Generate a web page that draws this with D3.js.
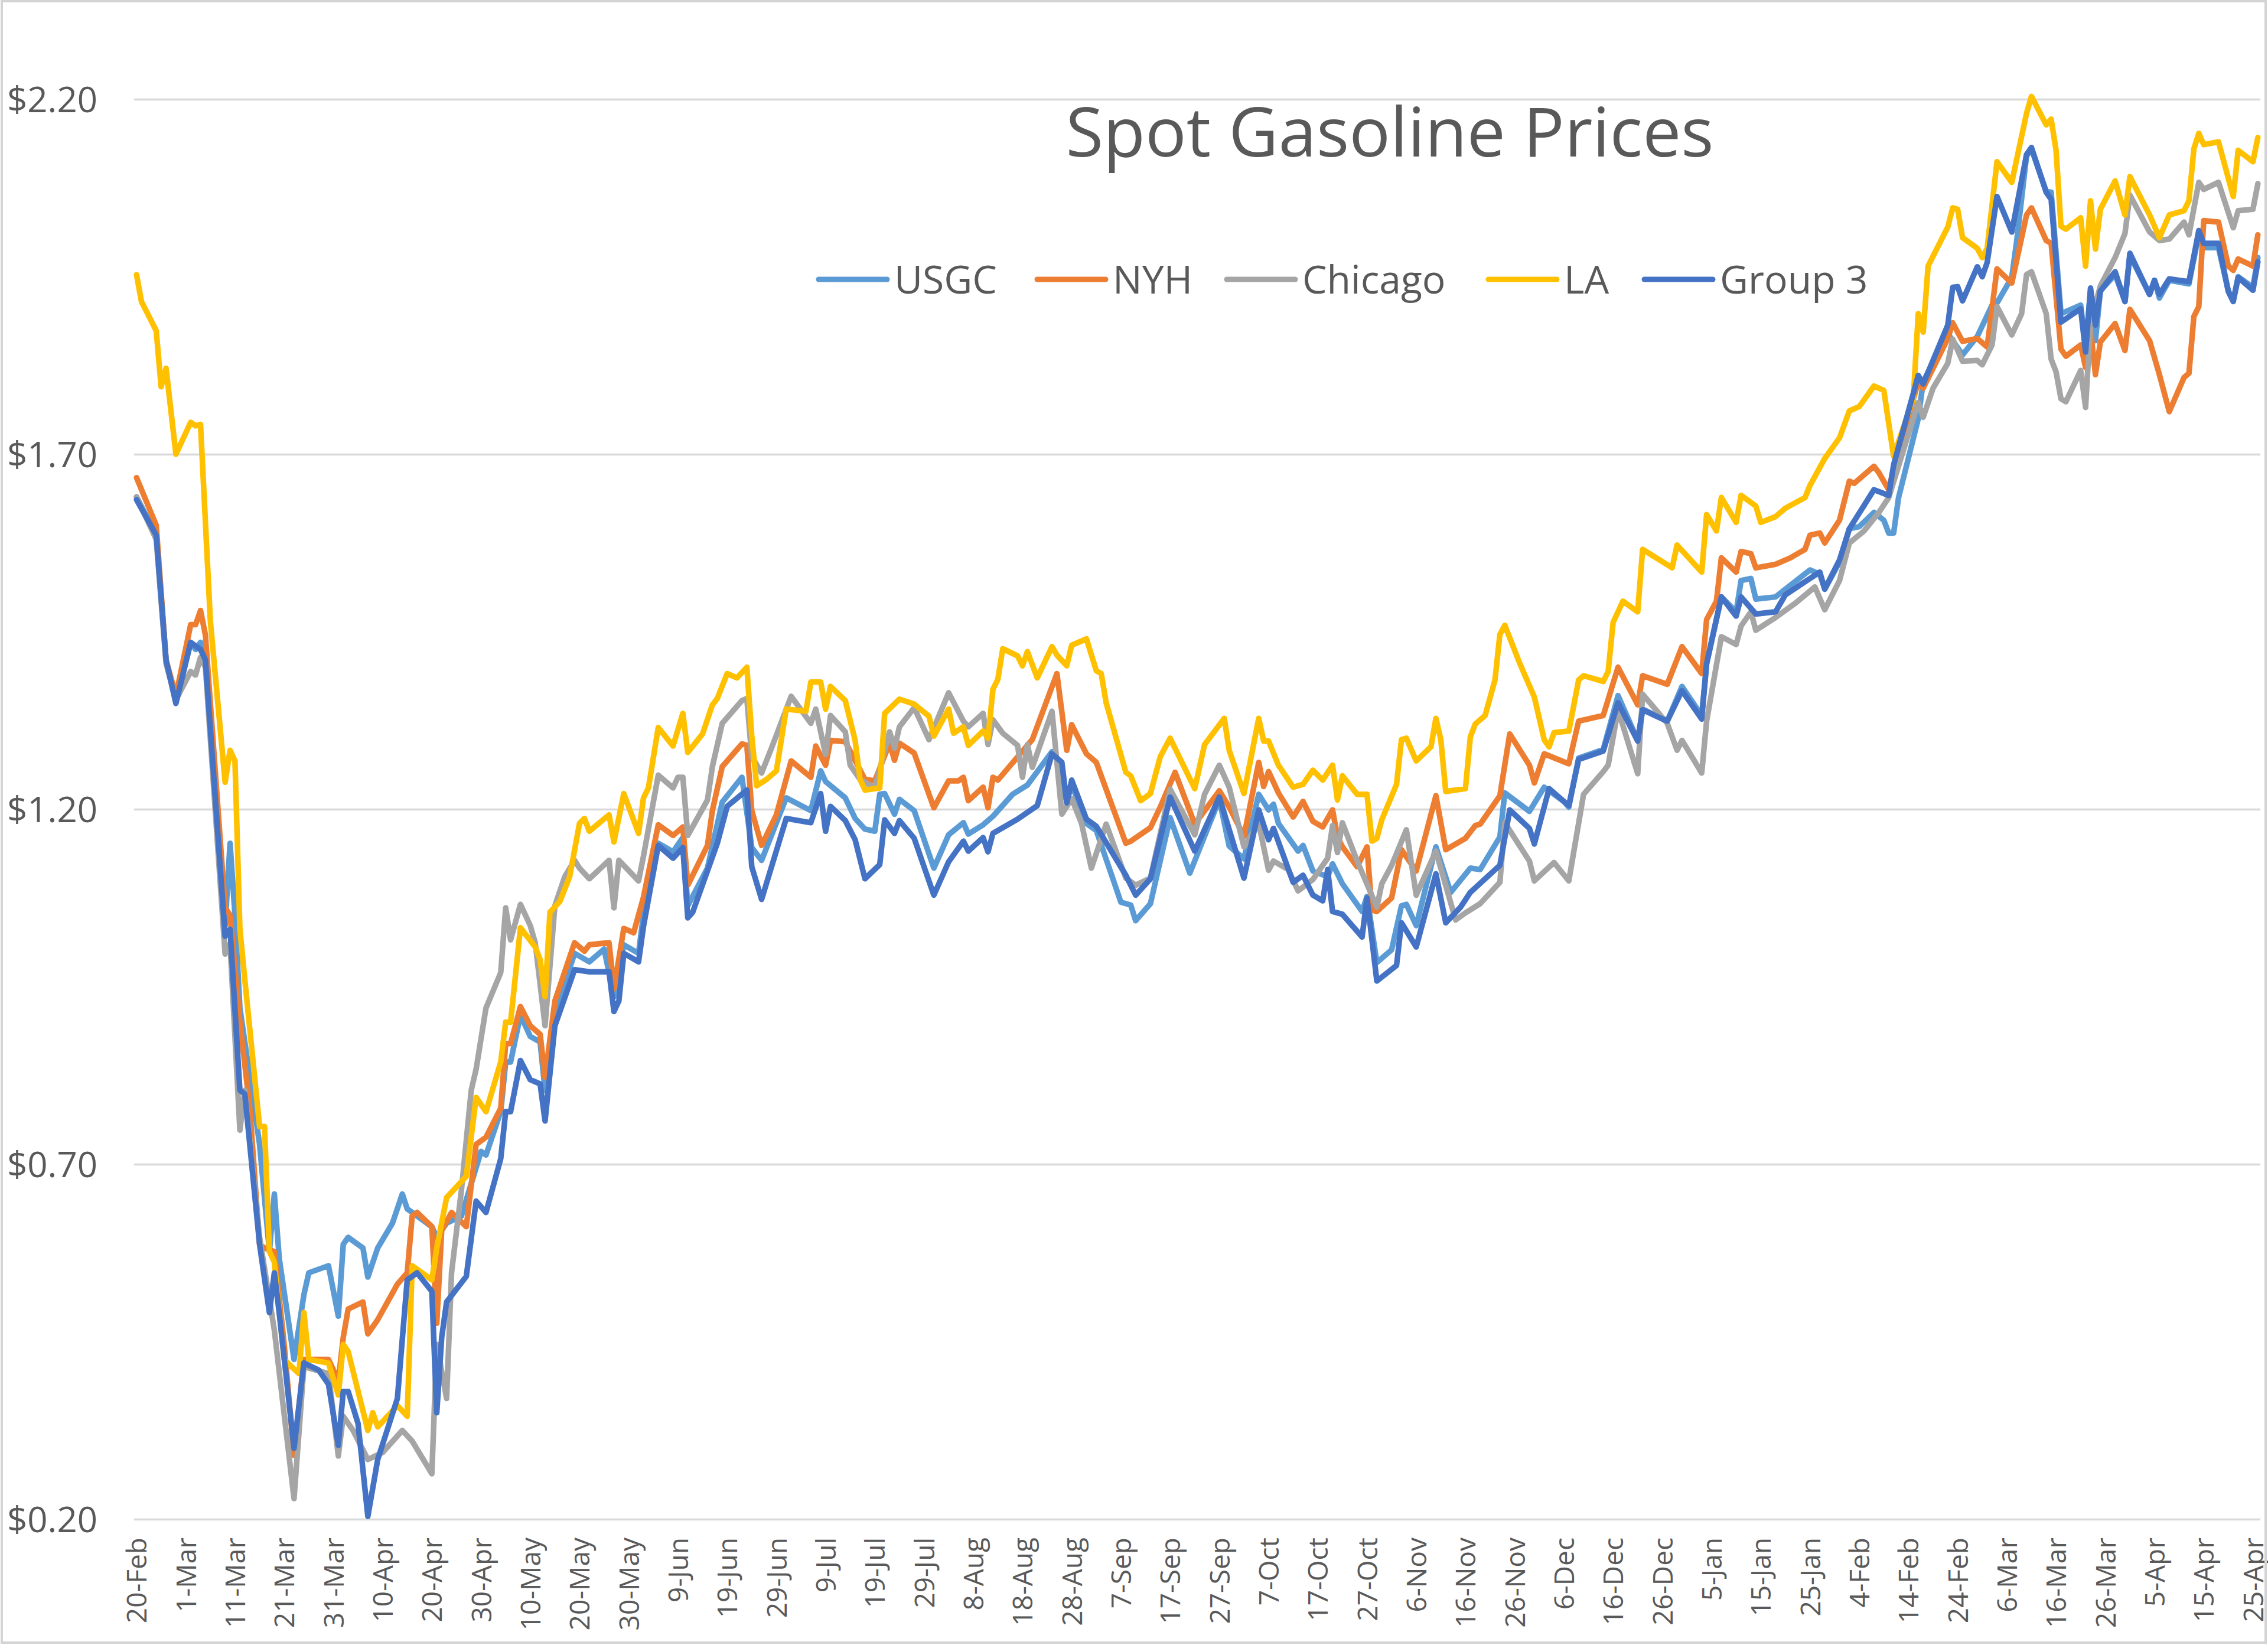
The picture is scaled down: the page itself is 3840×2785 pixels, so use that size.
<!DOCTYPE html>
<html><head><meta charset="utf-8">
<script src="https://cdn.jsdelivr.net/npm/d3@7"></script>
<style>html,body{margin:0;padding:0;background:#fff;} svg{display:block;}</style>
</head><body>
<svg id="chart" width="3840" height="2785"></svg>
<script>
// ---------- DATA (day offset from START, price $/gal) ----------
const START = "2020-02-20";
const chartTitle = "Spot Gasoline Prices";
const seriesNames = ["USGC", "NYH", "Chicago", "LA", "Group 3"];
const seriesColors = ["#5B9BD5", "#ED7D31", "#A5A5A5", "#FFC000", "#4472C4"];

const usgc = [[0,1.640],[4,1.586],[6,1.410],[8,1.354],[11,1.435],[12,1.425],[13,1.435],[14,1.414],[18,1.036],[19,1.152],[20,1.051],[21,0.920],[25,0.728],[27,0.577],[28,0.658],[29,0.567],[32,0.425],[34,0.516],[35,0.547],[39,0.557],[41,0.486],[42,0.587],[43,0.597],[46,0.582],[47,0.541],[49,0.582],[52,0.617],[54,0.658],[55,0.637],[60,0.612],[61,0.597],[63,0.617],[66,0.627],[70,0.718],[71,0.713],[74,0.774],[75,0.844],[76,0.844],[78,0.910],[80,0.880],[82,0.872],[83,0.804],[85,0.912],[89,0.997],[92,0.985],[95,1.003],[97,0.936],[99,1.009],[102,0.997],[103,1.052],[106,1.152],[109,1.140],[111,1.160],[112,1.064],[116,1.117],[119,1.210],[123,1.245],[125,1.146],[127,1.128],[132,1.216],[137,1.198],[139,1.254],[140,1.239],[144,1.216],[146,1.187],[148,1.172],[150,1.169],[151,1.221],[152,1.222],[154,1.193],[155,1.214],[158,1.198],[162,1.117],[165,1.164],[168,1.181],[169,1.165],[172,1.178],[174,1.190],[178,1.221],[181,1.234],[186,1.281],[187,1.272],[189,1.210],[190,1.235],[193,1.180],[195,1.170],[200,1.069],[202,1.065],[203,1.043],[206,1.067],[210,1.188],[214,1.110],[220,1.214],[222,1.148],[225,1.130],[228,1.221],[230,1.199],[231,1.207],[232,1.180],[236,1.141],[237,1.149],[239,1.113],[242,1.105],[243,1.123],[245,1.095],[249,1.056],[250,1.077],[252,0.984],[255,1.002],[257,1.064],[258,1.066],[260,1.036],[264,1.147],[267,1.083],[271,1.117],[273,1.115],[277,1.161],[278,1.223],[283,1.197],[286,1.231],[290,1.211],[291,1.203],[293,1.272],[298,1.284],[301,1.360],[305,1.297],[306,1.341],[311,1.324],[314,1.373],[318,1.332],[319,1.405],[322,1.499],[325,1.478],[326,1.522],[328,1.525],[329,1.496],[333,1.499],[335,1.510],[340,1.537],[342,1.531],[343,1.510],[346,1.548],[348,1.595],[350,1.598],[353,1.618],[355,1.607],[356,1.589],[357,1.589],[358,1.639],[362,1.750],[363,1.802],[368,1.870],[371,1.840],[374,1.866],[377,1.910],[378,1.913],[381,1.949],[382,2.000],[384,2.120],[385,2.130],[388,2.070],[389,2.069],[391,1.898],[395,1.910],[396,1.850],[397,1.930],[398,1.860],[399,1.930],[402,1.953],[404,1.915],[405,1.980],[409,1.925],[410,1.945],[411,1.920],[413,1.945],[417,1.940],[419,2.010],[420,1.991],[423,1.991],[425,1.930],[426,1.917],[427,1.950],[430,1.935],[431,1.977]];

const nyh = [[0,1.667],[4,1.600],[6,1.410],[8,1.360],[11,1.460],[12,1.460],[13,1.480],[14,1.445],[18,1.061],[19,1.051],[21,0.900],[23,0.780],[25,0.587],[26,0.582],[28,0.577],[30,0.446],[32,0.290],[34,0.425],[39,0.425],[41,0.395],[42,0.456],[43,0.496],[46,0.506],[47,0.461],[49,0.481],[53,0.531],[55,0.547],[56,0.627],[57,0.632],[60,0.612],[61,0.476],[62,0.607],[64,0.632],[67,0.612],[69,0.728],[71,0.738],[74,0.779],[75,0.870],[76,0.870],[78,0.922],[80,0.895],[82,0.883],[83,0.822],[85,0.930],[87,0.971],[89,1.012],[91,1.000],[92,1.009],[96,1.012],[97,0.947],[99,1.032],[101,1.026],[103,1.076],[106,1.178],[109,1.163],[111,1.175],[112,1.093],[116,1.149],[117,1.198],[119,1.260],[123,1.292],[124,1.290],[125,1.198],[127,1.149],[130,1.192],[133,1.268],[137,1.245],[138,1.289],[140,1.262],[141,1.297],[144,1.295],[148,1.242],[150,1.240],[153,1.293],[154,1.269],[155,1.293],[158,1.279],[162,1.202],[165,1.240],[167,1.240],[168,1.245],[169,1.212],[172,1.231],[173,1.202],[174,1.245],[175,1.241],[182,1.298],[187,1.391],[189,1.283],[190,1.319],[193,1.278],[195,1.266],[201,1.152],[202,1.155],[206,1.174],[208,1.203],[211,1.252],[215,1.179],[220,1.226],[222,1.203],[225,1.162],[228,1.266],[229,1.232],[230,1.253],[232,1.223],[235,1.189],[237,1.211],[239,1.183],[241,1.175],[243,1.199],[244,1.161],[245,1.147],[248,1.119],[250,1.147],[251,1.058],[252,1.056],[255,1.075],[257,1.143],[260,1.113],[264,1.219],[266,1.143],[270,1.159],[272,1.177],[273,1.179],[277,1.219],[279,1.306],[283,1.262],[284,1.237],[286,1.278],[291,1.264],[293,1.324],[298,1.332],[301,1.400],[305,1.347],[306,1.388],[311,1.376],[314,1.429],[318,1.391],[319,1.467],[321,1.493],[322,1.554],[325,1.534],[326,1.563],[328,1.560],[329,1.540],[333,1.545],[336,1.554],[339,1.566],[340,1.586],[342,1.589],[343,1.575],[346,1.607],[348,1.662],[349,1.659],[353,1.683],[354,1.674],[356,1.650],[357,1.680],[362,1.802],[363,1.793],[368,1.863],[369,1.885],[371,1.859],[374,1.863],[376,1.851],[378,1.961],[381,1.941],[384,2.037],[385,2.047],[388,2.001],[389,1.997],[391,1.848],[392,1.838],[395,1.854],[396,1.822],[397,1.876],[398,1.812],[399,1.858],[402,1.884],[404,1.846],[405,1.904],[409,1.860],[411,1.812],[413,1.760],[416,1.808],[417,1.814],[418,1.894],[419,1.908],[420,2.029],[423,2.027],[425,1.965],[426,1.959],[427,1.975],[430,1.965],[431,2.009]];

const chicago = [[0,1.640],[4,1.580],[6,1.405],[8,1.354],[11,1.394],[12,1.389],[13,1.414],[14,1.400],[18,0.996],[19,1.011],[21,0.748],[22,0.804],[25,0.597],[28,0.466],[32,0.229],[34,0.415],[39,0.405],[41,0.289],[42,0.345],[44,0.325],[47,0.284],[50,0.294],[54,0.325],[56,0.310],[60,0.264],[61,0.446],[63,0.370],[64,0.547],[66,0.663],[68,0.804],[69,0.834],[71,0.920],[74,0.970],[75,1.061],[76,1.016],[78,1.066],[80,1.036],[81,1.012],[83,0.895],[85,1.064],[87,1.105],[89,1.128],[90,1.117],[92,1.102],[96,1.128],[97,1.061],[98,1.128],[102,1.099],[103,1.134],[106,1.248],[109,1.230],[110,1.245],[111,1.245],[112,1.163],[116,1.213],[117,1.260],[119,1.321],[123,1.353],[124,1.356],[125,1.274],[127,1.251],[129,1.286],[133,1.359],[137,1.321],[138,1.341],[140,1.277],[141,1.332],[144,1.309],[145,1.262],[147,1.242],[150,1.230],[153,1.309],[154,1.286],[155,1.316],[158,1.343],[161,1.298],[165,1.364],[168,1.324],[169,1.316],[172,1.335],[173,1.291],[174,1.326],[176,1.307],[179,1.290],[180,1.245],[181,1.291],[182,1.259],[186,1.338],[188,1.193],[190,1.215],[192,1.180],[194,1.117],[197,1.179],[201,1.103],[203,1.093],[206,1.103],[210,1.228],[215,1.164],[217,1.221],[220,1.262],[222,1.231],[225,1.147],[228,1.180],[230,1.114],[231,1.127],[234,1.115],[236,1.085],[239,1.101],[242,1.131],[243,1.177],[244,1.139],[245,1.181],[248,1.127],[252,1.062],[253,1.095],[255,1.121],[258,1.171],[260,1.079],[264,1.141],[268,1.044],[270,1.054],[273,1.067],[277,1.097],[278,1.181],[283,1.127],[284,1.099],[288,1.125],[291,1.099],[294,1.221],[298,1.253],[299,1.262],[301,1.340],[305,1.250],[306,1.362],[311,1.321],[313,1.283],[314,1.297],[318,1.251],[319,1.324],[322,1.443],[325,1.432],[326,1.458],[328,1.478],[329,1.452],[333,1.470],[337,1.490],[341,1.513],[343,1.481],[346,1.522],[348,1.575],[351,1.592],[354,1.618],[356,1.639],[362,1.773],[363,1.752],[365,1.793],[368,1.828],[369,1.862],[371,1.831],[374,1.832],[375,1.826],[377,1.854],[378,1.908],[381,1.868],[383,1.898],[384,1.953],[385,1.957],[388,1.898],[389,1.834],[390,1.816],[391,1.778],[392,1.774],[395,1.818],[396,1.766],[397,1.886],[399,1.937],[402,1.977],[404,2.011],[405,2.065],[409,2.013],[411,2.001],[413,2.003],[416,2.027],[417,2.009],[419,2.083],[420,2.073],[423,2.083],[426,2.019],[427,2.043],[430,2.045],[431,2.081]];

const la = [[0,1.953],[1,1.915],[4,1.874],[5,1.795],[6,1.821],[8,1.700],[11,1.745],[12,1.740],[13,1.742],[15,1.465],[18,1.238],[19,1.283],[20,1.268],[21,1.031],[22,0.960],[25,0.753],[26,0.753],[27,0.577],[28,0.562],[30,0.425],[33,0.405],[34,0.491],[35,0.425],[39,0.420],[41,0.375],[42,0.446],[43,0.436],[47,0.325],[48,0.350],[49,0.330],[53,0.360],[55,0.345],[56,0.557],[60,0.537],[61,0.582],[63,0.653],[67,0.683],[69,0.794],[71,0.774],[74,0.844],[75,0.900],[76,0.900],[78,1.033],[81,1.006],[82,0.988],[83,0.936],[84,1.055],[86,1.070],[88,1.105],[90,1.180],[91,1.187],[92,1.169],[96,1.192],[97,1.154],[99,1.222],[102,1.166],[103,1.216],[104,1.230],[106,1.315],[109,1.289],[111,1.335],[112,1.280],[115,1.306],[117,1.347],[118,1.356],[120,1.391],[122,1.385],[124,1.400],[125,1.303],[126,1.233],[128,1.242],[130,1.254],[132,1.341],[136,1.338],[137,1.379],[139,1.379],[140,1.341],[141,1.373],[144,1.353],[146,1.297],[147,1.242],[148,1.227],[151,1.230],[152,1.335],[155,1.355],[158,1.348],[161,1.331],[162,1.303],[165,1.341],[166,1.307],[168,1.316],[169,1.290],[172,1.310],[173,1.300],[174,1.369],[175,1.383],[176,1.426],[179,1.416],[180,1.402],[181,1.422],[183,1.385],[186,1.429],[187,1.417],[189,1.402],[190,1.431],[193,1.440],[195,1.395],[196,1.391],[197,1.350],[201,1.252],[202,1.247],[204,1.212],[206,1.222],[208,1.274],[210,1.300],[215,1.229],[217,1.291],[221,1.328],[222,1.283],[225,1.222],[228,1.328],[229,1.296],[230,1.296],[232,1.262],[235,1.231],[237,1.235],[239,1.255],[241,1.241],[243,1.262],[244,1.213],[245,1.247],[248,1.221],[250,1.221],[251,1.155],[252,1.159],[253,1.185],[256,1.235],[257,1.298],[258,1.300],[260,1.268],[263,1.288],[264,1.328],[265,1.298],[266,1.225],[270,1.229],[271,1.302],[272,1.320],[274,1.332],[276,1.382],[277,1.446],[278,1.459],[281,1.406],[284,1.358],[286,1.298],[287,1.288],[288,1.308],[291,1.310],[293,1.382],[294,1.388],[298,1.380],[299,1.394],[300,1.463],[302,1.493],[305,1.478],[306,1.566],[312,1.540],[313,1.572],[318,1.534],[319,1.615],[321,1.592],[322,1.639],[325,1.604],[326,1.642],[329,1.627],[330,1.604],[333,1.612],[335,1.624],[339,1.639],[340,1.656],[343,1.694],[346,1.723],[348,1.761],[350,1.767],[353,1.796],[355,1.790],[357,1.697],[361,1.779],[362,1.898],[363,1.872],[364,1.965],[368,2.020],[369,2.047],[370,2.045],[371,2.005],[374,1.990],[375,1.977],[376,1.990],[378,2.112],[381,2.083],[384,2.180],[385,2.204],[388,2.164],[389,2.172],[390,2.128],[391,2.021],[392,2.017],[395,2.033],[396,1.965],[397,2.057],[398,1.989],[399,2.045],[402,2.085],[404,2.037],[405,2.091],[409,2.037],[411,2.005],[413,2.037],[416,2.043],[417,2.057],[418,2.130],[419,2.152],[420,2.136],[423,2.140],[426,2.063],[427,2.128],[430,2.112],[431,2.146]];

const group3 = [[0,1.636],[4,1.586],[6,1.410],[8,1.349],[11,1.435],[12,1.430],[13,1.425],[14,1.410],[18,1.021],[19,1.031],[21,0.804],[22,0.799],[25,0.587],[27,0.491],[28,0.547],[29,0.490],[32,0.300],[34,0.420],[37,0.410],[39,0.390],[41,0.304],[42,0.380],[43,0.380],[45,0.335],[47,0.204],[49,0.284],[53,0.370],[55,0.537],[57,0.547],[60,0.521],[61,0.350],[62,0.456],[63,0.506],[67,0.542],[69,0.648],[71,0.632],[74,0.708],[75,0.774],[76,0.774],[78,0.846],[80,0.819],[82,0.813],[83,0.761],[85,0.895],[89,0.974],[92,0.971],[96,0.971],[97,0.915],[98,0.930],[99,0.997],[102,0.985],[103,1.035],[106,1.149],[109,1.131],[111,1.146],[112,1.047],[113,1.055],[118,1.152],[120,1.204],[124,1.227],[125,1.119],[127,1.073],[132,1.187],[137,1.181],[139,1.222],[140,1.169],[141,1.204],[144,1.184],[146,1.157],[148,1.102],[151,1.122],[152,1.185],[154,1.166],[155,1.184],[158,1.159],[162,1.079],[165,1.126],[168,1.155],[169,1.141],[172,1.160],[173,1.140],[174,1.166],[179,1.186],[183,1.205],[186,1.278],[188,1.266],[189,1.209],[190,1.241],[193,1.186],[195,1.176],[201,1.107],[203,1.079],[206,1.102],[210,1.217],[215,1.141],[220,1.217],[225,1.103],[228,1.199],[230,1.157],[231,1.173],[235,1.097],[237,1.107],[239,1.079],[241,1.071],[242,1.115],[243,1.056],[245,1.052],[249,1.020],[250,1.075],[252,0.958],[256,0.980],[257,1.040],[260,1.006],[264,1.109],[266,1.040],[269,1.062],[271,1.083],[277,1.121],[279,1.199],[283,1.173],[284,1.151],[287,1.229],[291,1.205],[293,1.270],[298,1.282],[301,1.350],[305,1.296],[306,1.340],[311,1.324],[314,1.367],[318,1.327],[319,1.405],[322,1.499],[325,1.472],[326,1.499],[329,1.475],[333,1.478],[335,1.502],[340,1.525],[342,1.534],[343,1.510],[346,1.551],[348,1.595],[353,1.650],[356,1.642],[357,1.685],[362,1.811],[363,1.799],[368,1.882],[369,1.935],[370,1.936],[371,1.916],[374,1.964],[375,1.950],[376,1.970],[378,2.063],[381,2.013],[384,2.122],[385,2.132],[388,2.069],[389,2.059],[391,1.886],[395,1.905],[396,1.844],[397,1.934],[398,1.882],[399,1.930],[402,1.957],[404,1.915],[405,1.983],[409,1.925],[410,1.945],[411,1.925],[413,1.947],[417,1.943],[419,2.015],[420,1.997],[423,1.997],[425,1.929],[426,1.915],[427,1.949],[430,1.931],[431,1.971]];

const xTickLabels = ["20-Feb","1-Mar","11-Mar","21-Mar","31-Mar","10-Apr","20-Apr","30-Apr","10-May","20-May","30-May","9-Jun","19-Jun","29-Jun","9-Jul","19-Jul","29-Jul","8-Aug","18-Aug","28-Aug","7-Sep","17-Sep","27-Sep","7-Oct","17-Oct","27-Oct","6-Nov","16-Nov","26-Nov","6-Dec","16-Dec","26-Dec","5-Jan","15-Jan","25-Jan","4-Feb","14-Feb","24-Feb","6-Mar","16-Mar","26-Mar","5-Apr","15-Apr","25-Apr"];
const xTickStepDays = 10;
const lastDay = 431;
const yTickValues = [0.20, 0.70, 1.20, 1.70, 2.20];
const yTickLabels = ["$0.20", "$0.70", "$1.20", "$1.70", "$2.20"];

// ---------- DRAWING ----------
const FONT = "'Open Sans', 'Noto Sans', sans-serif";
const TEXT = "#595959";
const W = 3840, H = 2785;
const plot = {left: 227, right: 3827, top: 168, bottom: 2572};

const t0 = d3.timeParse("%Y-%m-%d")(START);
const toDate = d => d3.timeDay.offset(t0, d);

const x = d3.scaleTime()
  .domain([d3.timeHour.offset(t0, -12), d3.timeHour.offset(toDate(lastDay), 12)])
  .range([plot.left, plot.right]);
const y = d3.scaleLinear().domain([0.2, 2.2]).range([plot.bottom, plot.top]);

const svg = d3.select("#chart");
svg.append("rect").attr("x", 0).attr("y", 0).attr("width", W).attr("height", H).attr("fill", "#fff");

// y axis + gridlines
svg.append("g").attr("transform", `translate(${plot.left},0)`)
  .call(d3.axisLeft(y).tickValues(yTickValues).tickFormat((d, i) => yTickLabels[i])
    .tickSize(-(plot.right - plot.left)).tickPadding(62))
  .call(g => g.select(".domain").remove())
  .call(g => g.selectAll(".tick line").attr("stroke", "#d9d9d9").attr("stroke-width", 3.5))
  .call(g => g.selectAll(".tick text").attr("font-family", FONT).attr("font-size", 60)
    .attr("fill", TEXT).attr("dy", "0.36em"));

// x axis
const xTickDates = xTickLabels.map((_, i) => toDate(i * xTickStepDays));
svg.append("g").attr("transform", `translate(0,${plot.bottom})`)
  .call(d3.axisBottom(x).tickValues(xTickDates).tickFormat((d, i) => xTickLabels[i]).tickSize(0))
  .call(g => g.select(".domain").remove())
  .call(g => g.selectAll(".tick text")
    .attr("transform", "rotate(-90)").attr("text-anchor", "end")
    .attr("x", -31).attr("y", 0).attr("dy", "0.36em")
    .attr("font-family", FONT).attr("font-size", 46).attr("fill", TEXT));

// lines
const allSeries = [usgc, nyh, chicago, la, group3];
const line = d3.line().x(d => x(toDate(d[0]))).y(d => y(d[1]));
svg.append("g").selectAll("path").data(allSeries).join("path")
  .attr("d", line).attr("fill", "none")
  .attr("stroke", (d, i) => seriesColors[i]).attr("stroke-width", 9.5)
  .attr("stroke-linejoin", "round").attr("stroke-linecap", "round");

// title
svg.append("text").attr("x", 2353).attr("y", 265).attr("text-anchor", "middle")
  .attr("font-family", FONT).attr("font-size", 116).attr("fill", TEXT).text(chartTitle);

// legend (entry start positions match the reference layout)
const legendY = 473, sampleLen = 116, sampleGap = 12;
const legendStarts = [1386, 1756, 2077, 2520, 2784];
const lg = svg.append("g");
seriesNames.forEach((name, i) => {
  const g = lg.append("g").attr("transform", `translate(${legendStarts[i]},0)`);
  g.append("line").attr("x1", 0).attr("x2", sampleLen).attr("y1", legendY).attr("y2", legendY)
    .attr("stroke", seriesColors[i]).attr("stroke-width", 9).attr("stroke-linecap", "round");
  g.append("text").attr("x", sampleLen + sampleGap).attr("y", legendY).attr("dy", "0.36em")
    .attr("font-family", FONT).attr("font-size", 66).attr("fill", TEXT).text(name);
});

// chart border
svg.append("rect").attr("x", 3).attr("y", 2).attr("width", W - 7).attr("height", H - 6)
  .attr("fill", "none").attr("stroke", "#d4d4d4").attr("stroke-width", 4);
</script>
</body></html>
